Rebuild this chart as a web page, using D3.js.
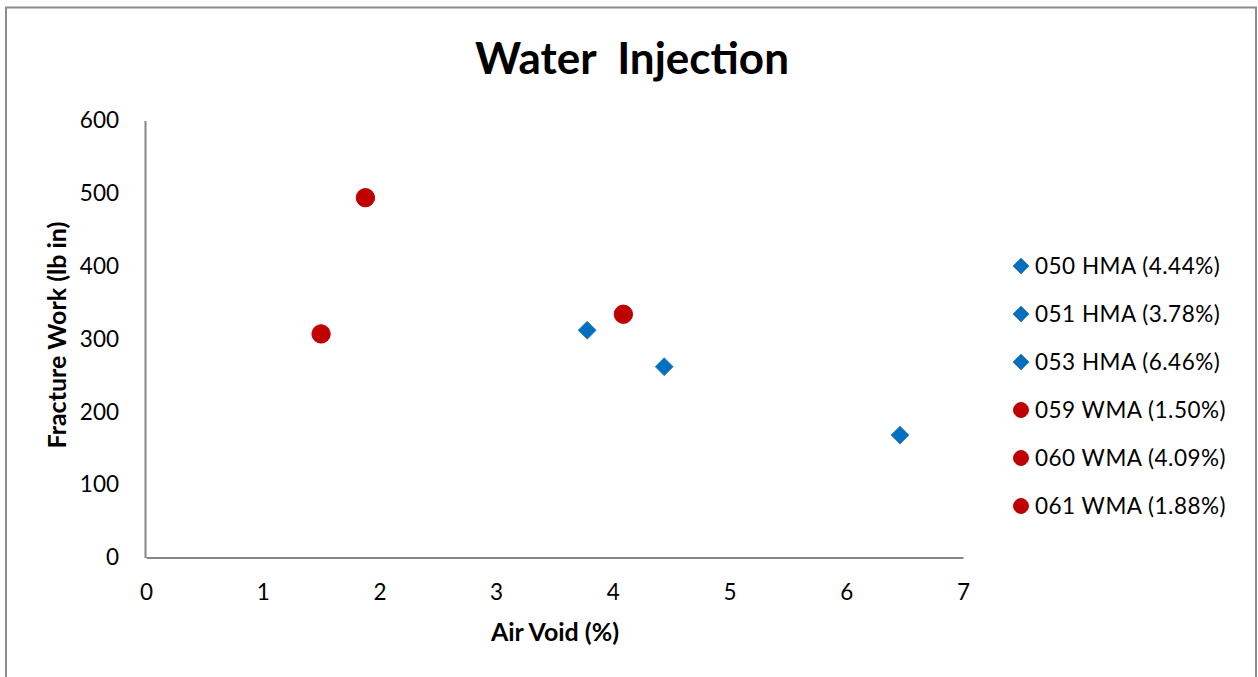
<!DOCTYPE html>
<html>
<head>
<meta charset="utf-8">
<script src="https://cdn.jsdelivr.net/npm/d3@7"></script>
<style>
  html, body { margin: 0; padding: 0; background: #fff; }
  svg { display: block; font-family: Lato, "Open Sans", sans-serif; }
</style>
</head>
<body>
<svg id="chart" width="1258" height="677"></svg>
<script>
// Series: each mixture is one series with a single point (air void %, fracture work)
const seriesNames = ["050 HMA (4.44%)", "051 HMA (3.78%)", "053 HMA (6.46%)",
                     "059 WMA (1.50%)", "060 WMA (4.09%)", "061 WMA (1.88%)"];
const airVoid = [4.44, 3.78, 6.46, 1.50, 4.09, 1.88];
const fractureWork = [262, 312, 168, 307, 334, 494];
const mixType = ["HMA", "HMA", "HMA", "WMA", "WMA", "WMA"];

const xTicks = [0, 1, 2, 3, 4, 5, 6, 7];
const yTicks = [0, 100, 200, 300, 400, 500, 600];

const svg = d3.select("#chart");

// outer chart border
svg.append("rect")
  .attr("x", 6).attr("y", 7.5)
  .attr("width", 1250).attr("height", 690)
  .attr("fill", "none").attr("stroke", "#8c8c8c").attr("stroke-width", 2);

const plot = { left: 146, right: 963, top: 120.5, bottom: 557.5 };

const x = d3.scaleLinear().domain([0, 7]).range([plot.left, plot.right]);
const y = d3.scaleLinear().domain([0, 600]).range([plot.bottom, plot.top]);

// title
svg.append("text")
  .attr("x", 632).attr("y", 74)
  .attr("text-anchor", "middle")
  .attr("font-size", 44).attr("font-weight", "bold")
  .attr("fill", "#000")
  .style("white-space", "pre")
  .text("Water  Injection");

// axes
const xAxis = d3.axisBottom(x).tickValues(xTicks).tickSize(0).tickPadding(35).tickFormat(d3.format("d"));
const yAxis = d3.axisLeft(y).tickValues(yTicks).tickSize(0).tickPadding(26).tickFormat(d3.format("d"));

const gx = svg.append("g").attr("transform", `translate(0,${plot.bottom})`).call(xAxis);
const gy = svg.append("g").attr("transform", `translate(${plot.left - 1},0)`).call(yAxis);

[gx, gy].forEach(g => {
  g.select(".domain").attr("stroke", "#868686").attr("stroke-width", 2);
  g.selectAll("text").attr("font-size", 22.5).attr("fill", "#000")
    .attr("font-family", "Lato, 'Open Sans', sans-serif");
});
gx.selectAll("text").attr("dy", "0.35em");

// axis titles
svg.append("text")
  .attr("x", 555).attr("y", 641)
  .attr("text-anchor", "middle")
  .attr("font-size", 25).attr("font-weight", "bold")
  .text("Air Void (%)");

svg.append("text")
  .attr("transform", `translate(66,${(plot.top + plot.bottom) / 2 - 4}) rotate(-90)`)
  .attr("text-anchor", "middle")
  .attr("font-size", 25).attr("font-weight", "bold")
  .text("Fracture Work (lb in)");

// markers
const colorFill = { HMA: "#0070C0", WMA: "#C00000" };
const colorStroke = { HMA: "#4a7ebb", WMA: "#C00000" };
const symbolFor = { HMA: d3.symbolDiamond2, WMA: d3.symbolCircle };

const data = seriesNames.map((name, i) => ({
  name, x: airVoid[i], y: fractureWork[i], type: mixType[i]
}));

svg.append("g").selectAll("path")
  .data(data)
  .join("path")
  .attr("transform", d => `translate(${x(d.x)},${y(d.y)})`)
  .attr("d", d => d3.symbol(symbolFor[d.type], d.type === "HMA" ? 205 : 265)())
  .attr("fill", d => colorFill[d.type])
  .attr("stroke", d => colorStroke[d.type])
  .attr("stroke-width", 1);

// legend
const legend = svg.append("g");
const legendRows = legend.selectAll("g")
  .data(data)
  .join("g")
  .attr("transform", (d, i) => `translate(1021,${266 + i * 48})`);

legendRows.append("path")
  .attr("d", d => d3.symbol(symbolFor[d.type], d.type === "HMA" ? 160 : 175)())
  .attr("fill", d => colorFill[d.type])
  .attr("stroke", d => colorStroke[d.type])
  .attr("stroke-width", 1);

legendRows.append("text")
  .attr("x", 14).attr("dy", "0.35em")
  .attr("font-size", 22.5).attr("fill", "#000")
  .attr("letter-spacing", 0.5)
  .text(d => d.name);
</script>
</body>
</html>
